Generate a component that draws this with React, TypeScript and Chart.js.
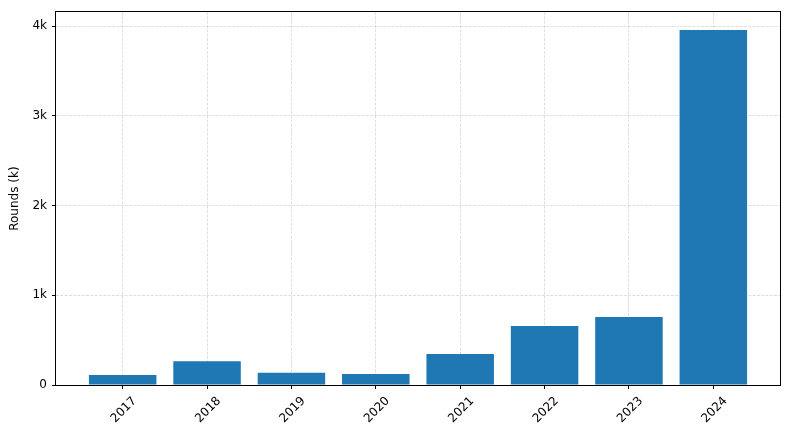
import React, { useEffect, useRef } from "react";
import { Chart, registerables } from "chart.js";

Chart.register(...registerables);

const years = ["2017", "2018", "2019", "2020", "2021", "2022", "2023", "2024"];
const rounds = [111, 266, 136, 122, 347, 657, 757, 3958];
const yTickValues = [0, 1000, 2000, 3000, 4000];
const yTitle = "Rounds (k)";

const FONT = "'DejaVu Sans', sans-serif";
const GRID = "rgba(176,176,176,0.5)";

const framePlugin = {
  id: "frame",
  afterDraw(chart: any) {
    const { ctx, chartArea } = chart;
    ctx.save();
    ctx.strokeStyle = "#000";
    ctx.lineWidth = 1;
    ctx.strokeRect(
      Math.round(chartArea.left) - 0.5,
      Math.round(chartArea.top) - 0.5,
      Math.round(chartArea.right - chartArea.left) + 1,
      Math.round(chartArea.bottom - chartArea.top) + 1
    );
    ctx.restore();
  },
};

export default function App() {
  const ref = useRef<HTMLCanvasElement>(null);
  useEffect(() => {
    if (!ref.current) return;
    const chart = new Chart(ref.current, {
      type: "bar",
      data: {
        datasets: [
          {
            data: rounds.map((v, i) => ({ x: i, y: v })),
            backgroundColor: "#1f77b4",
            borderWidth: 0,
            categoryPercentage: 1,
            barPercentage: 0.8,
          },
        ],
      },
      options: {
        animation: false,
        responsive: false,
        devicePixelRatio: 1,
        layout: { padding: { left: 0, top: 10, right: 10, bottom: 0 } },
        plugins: { legend: { display: false }, tooltip: { enabled: false } },
        scales: {
          x: {
            type: "linear",
            offset: false,
            min: -0.79,
            max: years.length - 1 + 0.79,
            z: 1,
            afterBuildTicks: (s: any) => {
              s.ticks = years.map((_, i) => ({ value: i }));
            },
            afterFit: (s: any) => {
              s.height = 55;
            },
            ticks: {
              stepSize: 1,
              autoSkip: false,
              minRotation: 45,
              maxRotation: 45,
              labelOffset: 12,
              padding: 5,
              color: "#000",
              font: { family: FONT, size: 12 },
              callback: (v: any) => years[v] ?? "",
            },
            grid: {
              offset: false,
              color: GRID,
              lineWidth: 0.8,
              tickLength: 4,
              tickColor: "#000",
              tickWidth: 1,
              tickBorderDash: [],
            },
            border: { display: false, dash: [3, 1.3] },
          },
          y: {
            min: 0,
            max: 4157,
            z: 1,
            afterBuildTicks: (s: any) => {
              s.ticks = yTickValues.map((v) => ({ value: v }));
            },
            afterFit: (s: any) => {
              s.width = 56;
            },
            ticks: {
              color: "#000",
              padding: 5,
              font: { family: FONT, size: 12 },
              callback: (v: any) => (v === 0 ? "0" : v / 1000 + "k"),
            },
            grid: {
              color: (c: any) => (c.tick && c.tick.value === 0 ? "rgba(0,0,0,0)" : GRID),
              lineWidth: 0.8,
              tickLength: 4,
              tickColor: "#000",
              tickWidth: 1,
              tickBorderDash: [],
            },
            border: { display: false, dash: [3, 1.3] },
            title: {
              display: true,
              text: yTitle,
              color: "#000",
              font: { family: FONT, size: 12 },
              padding: { top: 8, bottom: 0 },
            },
          },
        },
      },
      plugins: [framePlugin],
    });
    return () => chart.destroy();
  }, []);
  return (
    <div style={{ position: "fixed", left: 0, top: 0, width: 790, height: 440, background: "#fff" }}>
      <canvas ref={ref} width={790} height={440} />
    </div>
  );
}
